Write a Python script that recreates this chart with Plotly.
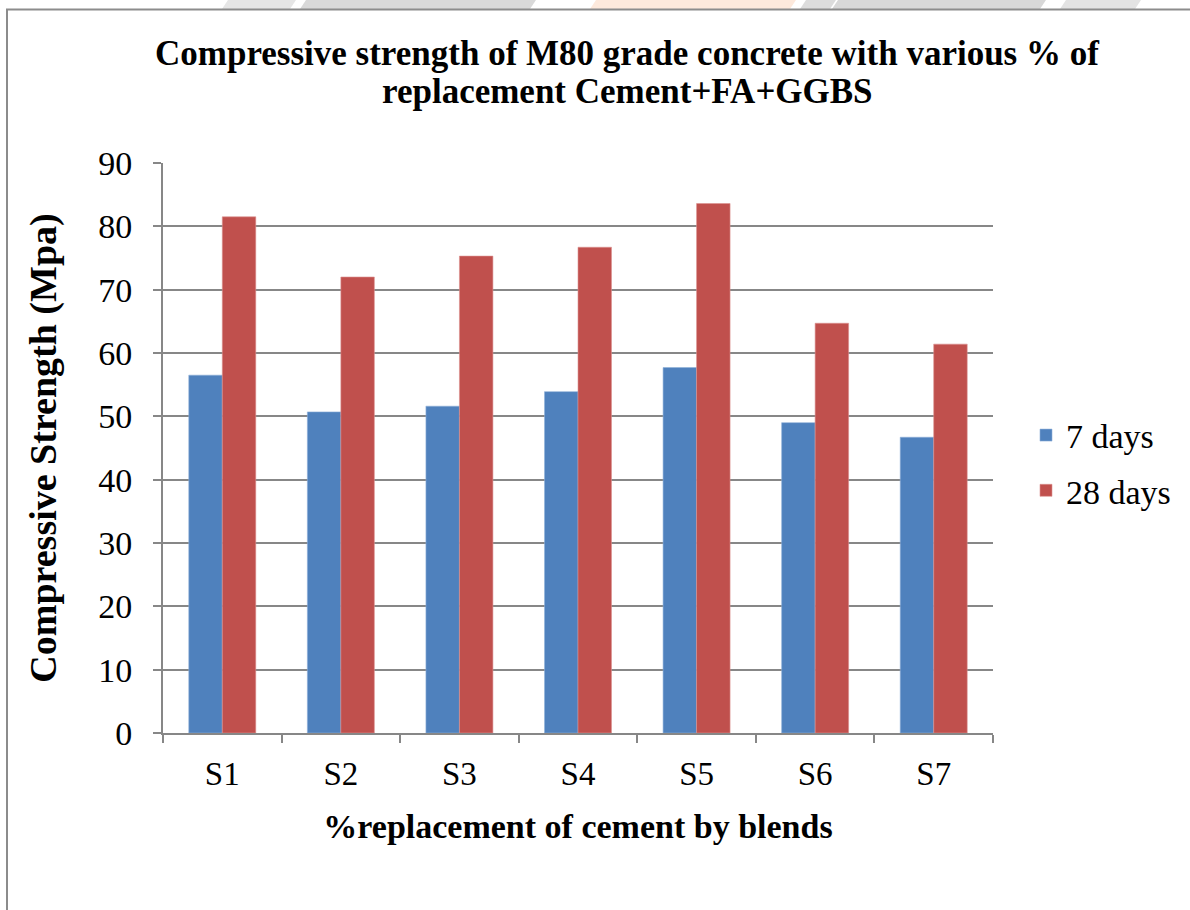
import plotly.graph_objects as go

# Mix designs and measured compressive strengths (MPa)
mixes = ["S1", "S2", "S3", "S4", "S5", "S6", "S7"]
strength_7_days = [56.5, 50.7, 51.6, 53.9, 57.7, 49.0, 46.7]
strength_28_days = [81.5, 72.0, 75.3, 76.7, 83.6, 64.7, 61.4]
y_ticks = [0, 10, 20, 30, 40, 50, 60, 70, 80, 90]
title_lines = ["Compressive strength of M80 grade concrete with various % of",
               "replacement Cement+FA+GGBS"]

W, H = 1190, 910
L, R, T, B = 163, 197, 163, 177

serif = "Liberation Serif, Times New Roman, serif"
grid_col = "#878787"

fig = go.Figure()
fig.add_trace(go.Bar(x=mixes, y=strength_7_days, name="7 days", legendgroup="d7",
                     marker=dict(color="#4F81BD", line=dict(color="#8FB0D8", width=0.6))))
fig.add_trace(go.Bar(x=mixes, y=strength_28_days, name="28 days", legendgroup="d28",
                     marker=dict(color="#C0504D", line=dict(color="#DC9290", width=0.6))))

# helpers: page pixels -> paper coordinates
pw, ph = W - L - R, H - T - B
def px_x(p):
    return (p - L) / pw
def px_y(p):
    return 1 - (p - T) / ph

# faint page header band above the frame
band = [
    (222, 290, "#e6e6e6"), (300, 530, "#d9d9d9"), (590, 790, "#fde9dc"),
    (800, 830, "#dcdcdc"), (832, 1040, "#d8d8d8"), (1060, 1135, "#e3e3e3"),
]
for a, b, c in band:
    path = (f"M {px_x(a + 6)} {px_y(0)} L {px_x(b + 6)} {px_y(0)} "
            f"L {px_x(b)} {px_y(9)} L {px_x(a)} {px_y(9)} Z")
    fig.add_shape(type="path", xref="paper", yref="paper", path=path,
                  fillcolor=c, line=dict(width=0), layer="below")

# outer chart frame (left/top edges visible, rest runs past the page)
fig.add_shape(type="rect", xref="paper", yref="paper",
              x0=px_x(7), x1=px_x(1240), y0=px_y(960), y1=px_y(9.5),
              line=dict(color="#8C8C8C", width=2), fillcolor="rgba(0,0,0,0)", layer="below")

# two-line chart title
for text, yc in zip(title_lines, [53, 91]):
    fig.add_annotation(text=f"<b>{text}</b>", xref="paper", yref="paper",
                       x=px_x(627), y=px_y(yc), xanchor="center", yanchor="middle",
                       showarrow=False, font=dict(family=serif, size=35, color="black"))

fig.update_layout(
    width=W, height=H,
    margin=dict(l=L, r=R, t=T, b=B),
    paper_bgcolor="white", plot_bgcolor="white",
    barmode="group", bargap=0.435, bargroupgap=0,
    font=dict(family=serif, color="black"),
    legend=dict(x=px_x(1026), y=px_y(463), xanchor="left", yanchor="middle",
                font=dict(family=serif, size=34, color="black"),
                itemwidth=30, tracegroupgap=8, traceorder="grouped",
                bgcolor="rgba(0,0,0,0)"),
    showlegend=True,
)

fig.update_xaxes(
    type="category", tickson="boundaries",
    ticks="outside", ticklen=8, tickcolor=grid_col, tickwidth=2,
    showline=True, linecolor=grid_col, linewidth=2,
    showgrid=False, ticklabelstandoff=10,
    tickfont=dict(family=serif, size=33, color="black"),
    title=dict(text="<b>%replacement of cement by blends</b>", standoff=24,
               font=dict(family=serif, size=34, color="black")),
)
fig.update_yaxes(
    range=[0, 90], tickvals=y_ticks,
    ticks="outside", ticklen=8, tickcolor=grid_col, tickwidth=2,
    showline=True, linecolor=grid_col, linewidth=2,
    showgrid=True, gridcolor=grid_col, gridwidth=2,
    zeroline=False, ticklabelstandoff=14,
    tickfont=dict(family=serif, size=34, color="black"),
    title=dict(text="<b>Compressive Strength (Mpa)</b>", standoff=30,
               font=dict(family=serif, size=38, color="black")),
)

fig.write_html("out.html")
